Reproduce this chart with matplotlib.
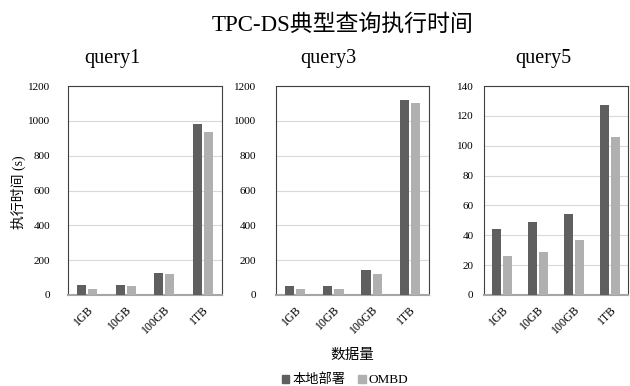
import matplotlib
matplotlib.use("Agg")
import matplotlib.pyplot as plt
import numpy as np
from matplotlib.patches import Patch

plt.rcParams['font.family'] = ['Liberation Serif', 'Noto Sans CJK SC', 'DejaVu Sans']

categories = ['1GB', '10GB', '100GB', '1TB']
series_names = ['本地部署', 'OMBD']
query1_local = [55, 60, 128, 980]
query1_ombd = [36, 49, 118, 937]
query3_local = [50, 54, 142, 1120]
query3_ombd = [33, 34, 119, 1105]
query5_local = [44, 49, 54, 127]
query5_ombd = [26, 29, 37, 106]
panel_titles = ['query1', 'query3', 'query5']

colors = ['#5f5f5f', '#b0b0b0']
W, H = 630, 386
fig = plt.figure(figsize=(W / 100, H / 100), dpi=100)

def px_axes(l, r, t, b):
    return fig.add_axes([l / W, 1 - b / H, (r - l) / W, (b - t) / H])

panels = [
    (68, 222, query1_local, query1_ombd, 1200, 200, 112, 13),
    (276, 429, query3_local, query3_ombd, 1200, 200, 328, 14),
    (484, 628, query5_local, query5_ombd, 140, 20, 543, 7.5),
]
x = np.arange(len(categories))
bw = 0.24
off = 0.145
for i, (l, r, loc, omb, ymax, step, tx, ypad) in enumerate(panels):
    ax = px_axes(l, r, 86, 295)
    ax.bar(x - off, loc, bw, color=colors[0], zorder=3)
    ax.bar(x + off, omb, bw, color=colors[1], zorder=3)
    ax.set_xlim(-0.5, len(categories) - 0.5)
    ax.set_ylim(0, ymax)
    ax.set_yticks(np.arange(0, ymax + 1, step))
    ax.yaxis.grid(True, color='#d9d9d9', linewidth=0.8, zorder=0)
    ax.set_axisbelow(True)
    ax.set_xticks(x)
    ax.set_xticklabels(categories, rotation=45, ha='right', rotation_mode='anchor', fontsize=8.5)
    ax.tick_params(axis='y', length=0, labelsize=8, pad=ypad)
    ax.tick_params(axis='x', length=0, pad=6)
    for s in ['top', 'left', 'right']:
        ax.spines[s].set_color('#404040')
        ax.spines[s].set_linewidth(0.8)
    ax.spines['bottom'].set_color('#a6a6a6')
    ax.spines['bottom'].set_linewidth(1.5)
    fig.text(tx / W, 1 - 59 / H, panel_titles[i], ha='center', va='center', fontsize=14.5)

fig.text(343 / W, 1 - 25 / H, 'TPC-DS典型查询执行时间', ha='center', va='center', fontsize=16.5)
fig.text(18 / W, 1 - 192 / H, '执行时间 (s)', ha='center', va='center', rotation=90, fontsize=10)
fig.text(352 / W, 1 - 356 / H, '数据量', ha='center', va='center', fontsize=10.5)

handles = [Patch(color=colors[0], label=series_names[0]), Patch(color=colors[1], label=series_names[1])]
fig.legend(handles=handles, loc='center', bbox_to_anchor=(345 / W, 1 - 380 / H), ncol=2,
           frameon=False, fontsize=9.5, handlelength=0.6, handleheight=0.6, handletextpad=0.2,
           columnspacing=1.0, borderpad=0)

fig.savefig('out.png', dpi=100)
